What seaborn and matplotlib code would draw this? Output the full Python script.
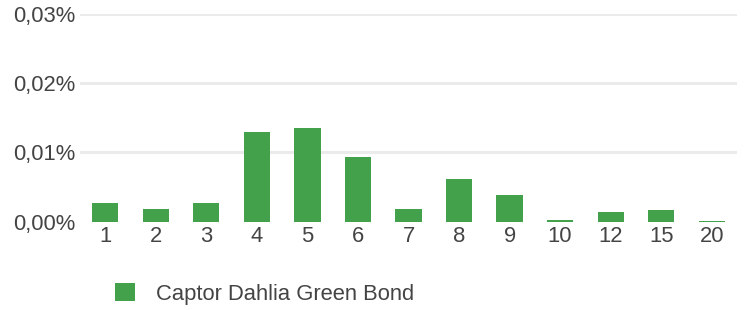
import pandas as pd
import matplotlib.pyplot as plt
import matplotlib.ticker as mticker
import seaborn as sns

# Data (values in percent)
categories = ["1", "2", "3", "4", "5", "6", "7", "8", "9", "10", "12", "15", "20"]
values = [0.0027, 0.0018, 0.0027, 0.0129, 0.0135, 0.0093, 0.0018, 0.0062, 0.0039, 0.0003, 0.0014, 0.0017, 0.0001]
series_name = "Captor Dahlia Green Bond"
y_ticks = [0.0, 0.01, 0.02, 0.03]

df = pd.DataFrame({"Category": categories, "Value": values})

sns.set_style("white")
plt.rcParams['font.family'] = ['Liberation Sans', 'DejaVu Sans']

fig = plt.figure(figsize=(7.47, 3.10), dpi=100)
ax = fig.add_axes([80 / 747, 1 - 221.7 / 310, 657 / 747, (221.7 - 14) / 310])

sns.barplot(data=df, x="Category", y="Value", order=categories, color="#43a14b",
            saturation=1, width=0.52, linewidth=0, label=series_name, ax=ax)

ax.set_ylim(0, 0.03)
ax.set_xlim(-0.5, len(categories) - 0.5)
ax.set_yticks(y_ticks)
ax.yaxis.set_major_formatter(mticker.FuncFormatter(lambda v, p: f"{v:.2f}%".replace(".", ",")))

# Grid lines (skip the baseline)
for v in y_ticks[1:]:
    ax.axhline(v, color="#ebebeb", linewidth=2.2, zorder=0)

ax.tick_params(axis="both", length=0, labelsize=15.8, colors="#444444")
ax.tick_params(axis="y", pad=3)
ax.tick_params(axis="x", pad=3)
ax.set_xlabel("")
ax.set_ylabel("")
sns.despine(ax=ax, left=True, bottom=True)

handles, labels = ax.get_legend_handles_labels()
ax.legend(handles, labels, loc="center left", bbox_to_anchor=(95 / 747, 1 - 294 / 310),
          bbox_transform=fig.transFigure, frameon=False, fontsize=15.8,
          handlelength=0.9, handleheight=0.9, handletextpad=1.0, labelcolor="#444444")

plt.savefig("out.png", dpi=100)
